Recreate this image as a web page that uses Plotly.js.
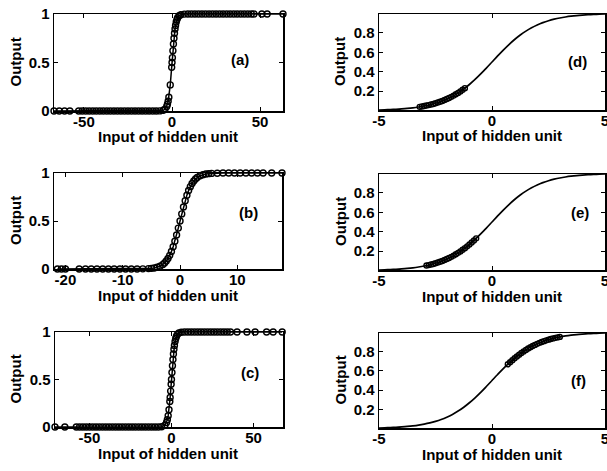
<!DOCTYPE html>
<html>
<head>
<meta charset="utf-8">
<script src="https://cdn.plot.ly/plotly-3.0.1.min.js"></script>
<style>html,body{margin:0;padding:0;background:#fff;}#chart{width:607px;height:471px;}</style>
</head>
<body>
<div id="chart"></div>
<script>
// ---------- data ----------
// Panel (a): hidden-unit inputs and outputs
const aX = [-67, -64, -61, -58,
  -53, -51, -49, -47, -45, -43, -41, -39, -37, -35, -33, -31, -29, -27, -25, -23, -21, -19, -17, -15, -13, -11, -9,
  -7, -5, -4, -3, -2.6, -2.2, -1.8, -1, -0.2, 0, 0.2, 0.5, 0.8, 1.1, 1.4, 1.7, 2, 2.4, 2.8, 3.2, 4, 5, 7,
  9, 11, 13, 15, 17, 19, 21, 23, 25, 27, 29, 31, 33, 35, 37, 39, 41, 43, 45,
  46.5, 51, 54, 63];
const aY = [0, 0, 0, 0,
  0, 0, 0, 0, 0, 0, 0, 0, 0, 0, 0, 0, 0, 0, 0, 0, 0, 0, 0, 0, 0, 0, 0,
  0.001, 0.007, 0.018, 0.047, 0.069, 0.100, 0.142, 0.269, 0.450, 0.500, 0.550, 0.622, 0.690, 0.750, 0.802, 0.846, 0.881, 0.917, 0.943, 0.961, 0.982, 0.993, 0.999,
  1, 1, 1, 1, 1, 1, 1, 1, 1, 1, 1, 1, 1, 1, 1, 1, 1, 1, 1,
  1, 1, 1, 1];

// Panel (b)
const bX = [-21.4, -20.7, -20, -17.6,
  -16.5, -15.5, -14.5, -13.5, -12.5, -11.5, -10.5, -9.5, -8.5, -7.5, -6.5,
  -5.5, -5, -4.5, -4, -3.5, -3, -2.7, -2.4, -2.1, -1.8, -1.5, -1.2, -0.9, -0.6, -0.3, 0, 0.3, 0.6, 0.9, 1.2, 1.5, 1.8, 2.1, 2.4, 2.7, 3, 3.5, 4, 4.5, 5, 5.5, 6.5,
  7.5, 8.5, 9.5, 10.5, 11.5, 12.5, 13.5,
  14.5, 16, 17.8];
const bY = [0, 0, 0, 0,
  0, 0, 0, 0, 0, 0, 0, 0, 0, 0.0006, 0.0015,
  0.0041, 0.0067, 0.011, 0.018, 0.029, 0.047, 0.063, 0.083, 0.109, 0.142, 0.182, 0.232, 0.289, 0.354, 0.426, 0.5, 0.574, 0.646, 0.711, 0.769, 0.818, 0.858, 0.891, 0.917, 0.937, 0.953, 0.971, 0.982, 0.989, 0.993, 0.996, 0.998,
  1, 1, 1, 1, 1, 1, 1,
  1, 1, 1];

// Panel (c)
const cX = [-71, -65,
  -58, -56, -54, -52, -50, -48, -46, -44, -42, -40, -38, -36, -34, -32, -30, -28, -26, -24, -22, -20, -18, -16, -14, -12, -10,
  -8, -6, -4, -3, -2.5, -2, -1.5, -1, -0.8, -0.5, -0.2, 0, 0.3, 0.6, 0.9, 1.2, 1.5, 1.8, 2.2, 2.6, 3, 3.5, 4.5, 6,
  8, 10, 12, 14, 16, 18, 20, 22, 24, 26, 28, 30, 32, 34, 36,
  40, 46, 51, 58, 62, 67.5];
const cY = [0, 0,
  0, 0, 0, 0, 0, 0, 0, 0, 0, 0, 0, 0, 0, 0, 0, 0, 0, 0, 0, 0, 0, 0, 0, 0, 0,
  0.0003, 0.0025, 0.018, 0.047, 0.076, 0.119, 0.182, 0.269, 0.310, 0.378, 0.450, 0.500, 0.574, 0.646, 0.711, 0.769, 0.818, 0.858, 0.900, 0.931, 0.953, 0.971, 0.989, 0.998,
  1, 1, 1, 1, 1, 1, 1, 1, 1, 1, 1, 1, 1, 1, 1,
  1, 1, 1, 1, 1, 1];

// Right column: activation curve over [-5, 5]
const curveX = [-5, -4.75, -4.5, -4.25, -4, -3.75, -3.5, -3.25, -3, -2.75, -2.5, -2.25, -2, -1.75, -1.5, -1.25, -1, -0.75, -0.5, -0.25,
  0, 0.25, 0.5, 0.75, 1, 1.25, 1.5, 1.75, 2, 2.25, 2.5, 2.75, 3, 3.25, 3.5, 3.75, 4, 4.25, 4.5, 4.75, 5];
const curveY = [0.0067, 0.0086, 0.0110, 0.0140, 0.0180, 0.0230, 0.0293, 0.0373, 0.0474, 0.0601, 0.0759, 0.0953, 0.1192, 0.1480, 0.1824, 0.2227, 0.2689, 0.3208, 0.3775, 0.4378,
  0.5, 0.5622, 0.6225, 0.6792, 0.7311, 0.7773, 0.8176, 0.8520, 0.8808, 0.9047, 0.9241, 0.9399, 0.9526, 0.9627, 0.9707, 0.9770, 0.9820, 0.9860, 0.9890, 0.9914, 0.9933];

// Panel (d) samples
const dX = [-3.2, -3.1, -3.0, -2.9, -2.8, -2.7, -2.6, -2.5, -2.4, -2.3, -2.2, -2.1, -2.0, -1.9, -1.8, -1.7, -1.6, -1.5, -1.4, -1.3, -1.2];
const dY = [0.0392, 0.0431, 0.0474, 0.0522, 0.0573, 0.0630, 0.0691, 0.0759, 0.0832, 0.0911, 0.0998, 0.1091, 0.1192, 0.1301, 0.1419, 0.1545, 0.1680, 0.1824, 0.1978, 0.2142, 0.2315];
// Panel (e) samples
const eX = [-2.9, -2.8, -2.7, -2.6, -2.5, -2.4, -2.3, -2.2, -2.1, -2.0, -1.9, -1.8, -1.7, -1.6, -1.5, -1.4, -1.3, -1.2, -1.1, -1.0, -0.9, -0.8, -0.7];
const eY = [0.0522, 0.0573, 0.0630, 0.0691, 0.0759, 0.0832, 0.0911, 0.0998, 0.1091, 0.1192, 0.1301, 0.1419, 0.1545, 0.1680, 0.1824, 0.1978, 0.2142, 0.2315, 0.2497, 0.2689, 0.2891, 0.3100, 0.3318];
// Panel (f) samples
const fX = [0.7, 0.8, 0.9, 1.0, 1.1, 1.2, 1.3, 1.4, 1.5, 1.6, 1.7, 1.8, 1.9, 2.0, 2.1, 2.2, 2.3, 2.4, 2.5, 2.6, 2.7, 2.8, 2.9, 3.0];
const fY = [0.6682, 0.6900, 0.7109, 0.7311, 0.7503, 0.7685, 0.7858, 0.8022, 0.8176, 0.8320, 0.8455, 0.8581, 0.8699, 0.8808, 0.8909, 0.9002, 0.9089, 0.9168, 0.9241, 0.9309, 0.9370, 0.9427, 0.9478, 0.9526];

// Tick labels
const ticksA = [-50, 0, 50];
const ticksB = [-20, -10, 0, 10];
const ticksC = [-50, 0, 50];
const ticksRight = [-5, 0, 5];
const yTicksLeft = [0, 0.5, 1];
const yTicksLeftText = ['0', '0.5', '1'];
const yTicksRight = [0.2, 0.4, 0.6, 0.8];
const yTicksRightText = ['0.2', '0.4', '0.6', '0.8'];
const panelLabels = ['(a)', '(b)', '(c)', '(d)', '(e)', '(f)'];
const xTitle = 'Input of hidden unit';
const yTitle = 'Output';

// ---------- layout ----------
const W = 607, H = 471;
const FONT = 'Liberation Sans, Arial, Helvetica, sans-serif';
// pixel boxes [left, right, top, bottom]
const boxes = [
  [54, 283, 14, 111], [54, 282, 173, 269], [55, 283, 332, 427],
  [379, 605, 14, 110], [379, 605, 174, 270], [379, 605, 333, 428]
];
const xRanges = [[-67, 63], [-22, 17.8], [-71, 68], [-5, 5], [-5, 5], [-5, 5]];
const xTicks = [ticksA, ticksB, ticksC, ticksRight, ticksRight, ticksRight];
const labelPos = [[240, 60], [248, 212], [250, 372], [577, 62], [580, 212], [578, 380]];

const traces = [];
const leftData = [[aX, aY], [bX, bY], [cX, cY]];
leftData.forEach((d, i) => {
  const s = i === 0 ? '' : String(i + 1);
  traces.push({x: d[0], y: d[1], mode: 'lines+markers', xaxis: 'x' + s, yaxis: 'y' + s,
    line: {color: '#000', width: 1.5},
    marker: {symbol: 'circle-open', size: 6, color: '#000', line: {width: 1.4, color: '#000'}},
    hoverinfo: 'skip', showlegend: false, cliponaxis: false});
});
const rightData = [[dX, dY], [eX, eY], [fX, fY]];
rightData.forEach((d, i) => {
  const s = String(i + 4);
  traces.push({x: curveX, y: curveY, mode: 'lines', xaxis: 'x' + s, yaxis: 'y' + s,
    line: {color: '#000', width: 1.7, shape: 'spline'}, hoverinfo: 'skip', showlegend: false});
  traces.push({x: d[0], y: d[1], mode: 'markers', xaxis: 'x' + s, yaxis: 'y' + s,
    marker: {symbol: 'circle-open', size: 5, color: '#000', line: {width: 1.4, color: '#000'}}, hoverinfo: 'skip', showlegend: false, cliponaxis: false});
});

const layout = {
  width: W, height: H,
  margin: {l: 0, r: 0, t: 0, b: 0},
  paper_bgcolor: '#fff', plot_bgcolor: '#fff',
  showlegend: false,
  font: {family: FONT, size: 15, color: '#000', weight: 'bold'},
  annotations: []
};
const axBase = {
  showline: true, mirror: 'ticks', linecolor: '#000', linewidth: 1.5,
  ticks: 'inside', ticklen: 4, tickwidth: 1, tickcolor: '#000',
  showgrid: false, zeroline: false, fixedrange: true,
  tickfont: {family: FONT, size: 15, color: '#000', weight: 'bold'}
};
boxes.forEach((b, i) => {
  const s = i === 0 ? '' : String(i + 1);
  const right = i >= 3;
  layout['xaxis' + s] = Object.assign({}, axBase, {
    domain: [b[0] / W, b[1] / W], anchor: 'y' + s, range: xRanges[i],
    tickmode: 'array', tickvals: xTicks[i], ticktext: xTicks[i].map(String),
    ticklabelstandoff: -4, ticklabeloverflow: 'allow'
  });
  layout['yaxis' + s] = Object.assign({}, axBase, {
    domain: [1 - b[3] / H, 1 - b[2] / H], anchor: 'x' + s,
    range: right ? [0.0067, 0.9933] : [0, 1],
    tickmode: 'array',
    tickvals: right ? yTicksRight : yTicksLeft,
    ticktext: right ? yTicksRightText : yTicksLeftText
  });
  const cy = (b[2] + b[3]) / 2;
  layout.annotations.push({text: xTitle, xref: 'paper', yref: 'paper', x: (right ? 492 : 168) / W, y: 1 - (b[3] + 26) / H,
    showarrow: false, xanchor: 'center', yanchor: 'middle', font: {family: FONT, size: 15, color: '#000', weight: 'bold'}});
  layout.annotations.push({text: yTitle, xref: 'paper', yref: 'paper', x: (right ? 340 : 15) / W, y: 1 - cy / H,
    textangle: -90, showarrow: false, xanchor: 'center', yanchor: 'middle', font: {family: FONT, size: 15, color: '#000', weight: 'bold'}});
  layout.annotations.push({text: panelLabels[i], xref: 'paper', yref: 'paper', x: labelPos[i][0] / W, y: 1 - labelPos[i][1] / H,
    showarrow: false, xanchor: 'center', yanchor: 'middle', font: {family: FONT, size: 15, color: '#000', weight: 'bold'}});
});

Plotly.newPlot('chart', traces, layout, {staticPlot: true, displayModeBar: false});
</script>
</body>
</html>
